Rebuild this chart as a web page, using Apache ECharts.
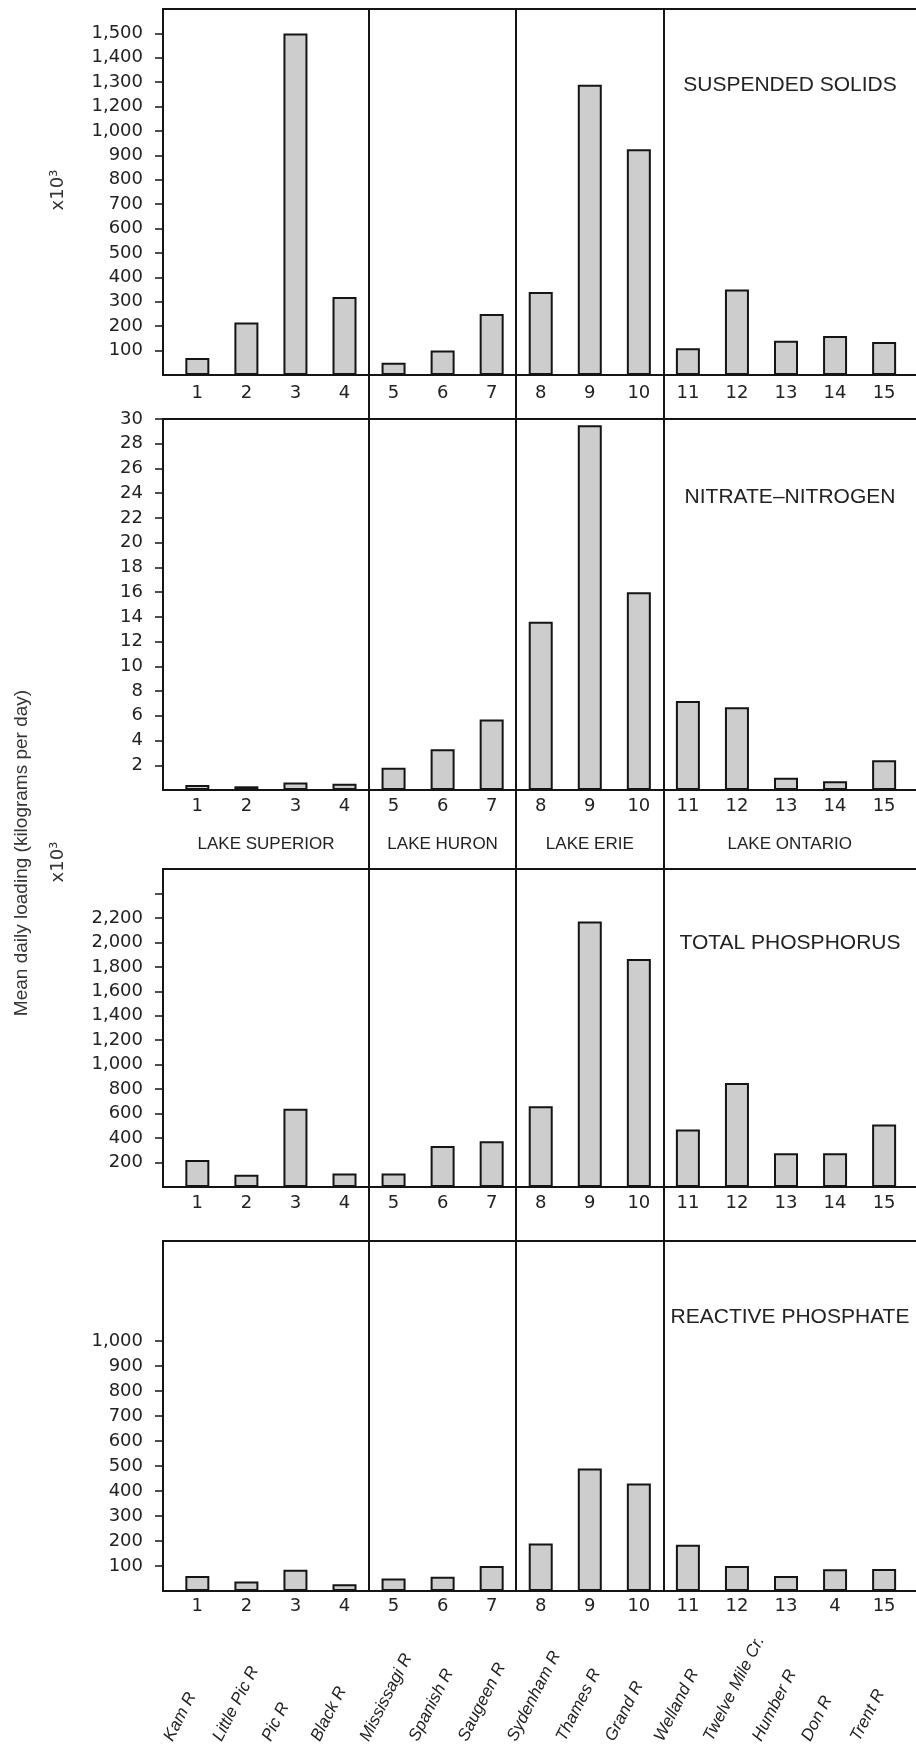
<!DOCTYPE html>
<html><head><meta charset="utf-8">
<script src="https://cdn.jsdelivr.net/npm/echarts@6/dist/echarts.min.js"></script>
<style>html,body{margin:0;padding:0;background:#fff}#c{width:916px;height:1752px}</style>
</head><body><div id="c"></div>
<script>
// ---- data ----
const riverNumbers = [1,2,3,4,5,6,7,8,9,10,11,12,13,14,15];
const riverNames = ['Kam R','Little Pic R','Pic R','Black R','Mississagi R','Spanish R','Saugeen R',
  'Sydenham R','Thames R','Grand R','Welland R','Twelve Mile Cr.','Humber R','Don R','Trent R'];
const lakeNames = ['LAKE SUPERIOR','LAKE HURON','LAKE ERIE','LAKE ONTARIO'];
const lakeFirstRiver = [1,5,8,11];
const panelTitles = ['SUSPENDED SOLIDS','NITRATE–NITROGEN','TOTAL PHOSPHORUS','REACTIVE PHOSPHATE'];
const scaleNote = 'x10³';
const yTitle = 'Mean daily loading (kilograms per day)';

const suspendedSolids   = [70,215,1500,320,50,100,250,340,1290,925,110,350,140,160,135];
const nitrateNitrogen   = [0.4,0.3,0.6,0.5,1.8,3.3,5.7,13.6,29.5,16.0,7.2,6.7,1.0,0.7,2.4];
const totalPhosphorus   = [220,100,640,110,110,335,375,660,2170,1865,470,850,275,275,510];
const reactivePhosphate = [60,38,85,27,50,57,100,190,490,430,185,100,60,87,88];

// printed tick labels (the suspended-solids axis skips 1,100 in the original)
const ssTickLabels  = [100,200,300,400,500,600,700,800,900,1000,1200,1300,1400,1500];
const no3TickLabels = [2,4,6,8,10,12,14,16,18,20,22,24,26,28,30];
const tpTickLabels  = [200,400,600,800,1000,1200,1400,1600,1800,2000,2200];
const tpExtraTicks  = [2400];
const rpTickLabels  = [100,200,300,400,500,600,700,800,900,1000];
const numLabels     = ['1','2','3','4','5','6','7','8','9','10','11','12','13','14','15'];
const numLabelsLast = ['1','2','3','4','5','6','7','8','9','10','11','12','13','4','15'];

// ---- helpers ----
const fmt = v => Number(v).toLocaleString('en-US');
// suspended solids: axis in printed-tick steps (non-uniform printed labels)
const ssSteps = [0].concat(ssTickLabels);
function ssPos(v){
  for (let i = 0; i < ssSteps.length - 1; i++){
    if (v <= ssSteps[i+1]) return i + (v - ssSteps[i]) / (ssSteps[i+1] - ssSteps[i]);
  }
  return ssSteps.length - 1;
}
const stepIdx = ssTickLabels.map((_, i) => i + 1);

const INK = '#151515', TXT = '#222';
const NUMFONT = 'DejaVu Sans', SANS = 'Liberation Sans';
const XMIN = 0.3, XMAX = 15.65;

const panels = [
  { top: 9,    height: 366, max: 15,   values: suspendedSolids.map(ssPos),
    ticks: stepIdx, labels: stepIdx, fmt: v => fmt(ssTickLabels[Math.round(v) - 1]),
    nums: numLabels, numMargin: 9 },
  { top: 419,  height: 371, max: 30,   values: nitrateNitrogen,
    ticks: no3TickLabels, labels: no3TickLabels, fmt: fmt, nums: numLabels, numMargin: 7 },
  { top: 869,  height: 318, max: 2600, values: totalPhosphorus,
    ticks: tpTickLabels.concat(tpExtraTicks), labels: tpTickLabels, fmt: fmt, nums: numLabels, numMargin: 7 },
  { top: 1241, height: 350, max: 1400, values: reactivePhosphate,
    ticks: rpTickLabels, labels: rpTickLabels, fmt: fmt, nums: numLabelsLast, numMargin: 6 }
];

const lakeBounds = [XMIN].concat(lakeFirstRiver.slice(1).map(n => n - 0.5), [XMAX]);
const lakeCenters = lakeNames.map((_, i) => (lakeBounds[i] + lakeBounds[i+1]) / 2);

const grid = [], xAxis = [], yAxis = [], series = [];
const lineStyle = { color: INK, width: 2 };

panels.forEach((p, k) => {
  grid.push({ left: 163, right: 0, top: p.top, height: p.height });
  // baseline with river numbers
  xAxis.push({ gridIndex: k, type: 'value', min: XMIN, max: XMAX, position: 'bottom',
    axisLine: { show: true, onZero: false, lineStyle },
    axisTick: { show: false }, splitLine: { show: false },
    axisLabel: { customValues: riverNumbers, formatter: v => p.nums[Math.round(v) - 1],
      margin: p.numMargin, fontSize: 18, fontFamily: NUMFONT, color: TXT } });
  // top frame line
  xAxis.push({ gridIndex: k, type: 'value', min: XMIN, max: XMAX, position: 'top',
    axisLine: { show: true, onZero: false, lineStyle },
    axisTick: { show: false }, axisLabel: { show: false }, splitLine: { show: false } });
  yAxis.push({ gridIndex: k, type: 'value', min: 0, max: p.max,
    axisLine: { show: true, onZero: false, lineStyle },
    axisTick: { show: true, inside: false, length: 8, customValues: p.ticks, lineStyle: { color: INK, width: 1.5 } },
    axisLabel: { customValues: p.labels, formatter: p.fmt, margin: 20,
      fontSize: 18, fontFamily: NUMFONT, color: TXT },
    splitLine: { show: false } });
  series.push({ type: 'bar', xAxisIndex: xAxis.length - 2, yAxisIndex: k,
    barWidth: 24, silent: true,
    itemStyle: { color: '#cdcdcd', borderColor: INK, borderWidth: 2 },
    data: riverNumbers.map((n, i) => [n, p.values[i]]) });
});

// lake names row under the nitrate panel
xAxis.push({ gridIndex: 1, type: 'value', min: XMIN, max: XMAX, position: 'bottom', offset: 0,
  axisLine: { show: false }, axisTick: { show: false }, splitLine: { show: false },
  axisLabel: { customValues: lakeCenters,
    formatter: v => lakeNames[lakeCenters.reduce((b, c, i) => Math.abs(c - v) < Math.abs(lakeCenters[b] - v) ? i : b, 0)],
    margin: 46, fontSize: 17, fontFamily: SANS, color: TXT } });

// full-height grid for lake dividers
grid.push({ left: 163, right: 0, top: 9, height: 1582 });
const gDiv = grid.length - 1;
xAxis.push({ gridIndex: gDiv, type: 'value', min: XMIN, max: XMAX, show: false });
yAxis.push({ gridIndex: gDiv, type: 'value', min: 0, max: 1, show: false });
series.push({ type: 'line', xAxisIndex: xAxis.length - 1, yAxisIndex: yAxis.length - 1,
  data: [], silent: true,
  markLine: { symbol: 'none', silent: true, animation: false, label: { show: false },
    lineStyle: { color: INK, width: 2, type: 'solid' },
    data: lakeBounds.slice(1, -1).map(b => ({ xAxis: b })) } });

// river names grid (labels start left of each bar, rotated)
grid.push({ left: 134, width: 753, top: 1650, height: 90 });
const gNames = grid.length - 1;
xAxis.push({ gridIndex: gNames, type: 'value', min: XMIN, max: XMAX, position: 'bottom',
  axisLine: { show: false }, axisTick: { show: false }, splitLine: { show: false },
  axisLabel: { customValues: riverNumbers, formatter: v => riverNames[Math.round(v) - 1],
    rotate: 63, align: 'left', verticalAlign: 'middle', margin: 0,
    fontSize: 17, fontStyle: 'italic', fontFamily: SANS, color: TXT } });
yAxis.push({ gridIndex: gNames, type: 'value', min: 0, max: 1, show: false });
series.push({ type: 'line', xAxisIndex: xAxis.length - 1, yAxisIndex: yAxis.length - 1, data: [] });

const graphic = [];
const titleY = [85, 497, 943, 1317];
panelTitles.forEach((t, i) => graphic.push({ type: 'text', x: 790, y: titleY[i],
  style: { text: t, align: 'center', verticalAlign: 'middle', fontSize: 21, fontFamily: SANS, fill: TXT } }));
[190, 862].forEach(y => graphic.push({ type: 'text', x: 58, y: y, rotation: Math.PI / 2,
  style: { text: scaleNote, align: 'center', verticalAlign: 'middle', fontSize: 18, fontFamily: NUMFONT, fill: '#333' } }));
graphic.push({ type: 'text', x: 22, y: 853, rotation: Math.PI / 2,
  style: { text: yTitle, align: 'center', verticalAlign: 'middle', fontSize: 19, fontFamily: SANS, fill: '#333' } });

const chart = echarts.init(document.getElementById('c'), null, { renderer: 'canvas' });
chart.setOption({ backgroundColor: '#fff', animation: false, grid, xAxis, yAxis, series, graphic });
</script></body></html>
